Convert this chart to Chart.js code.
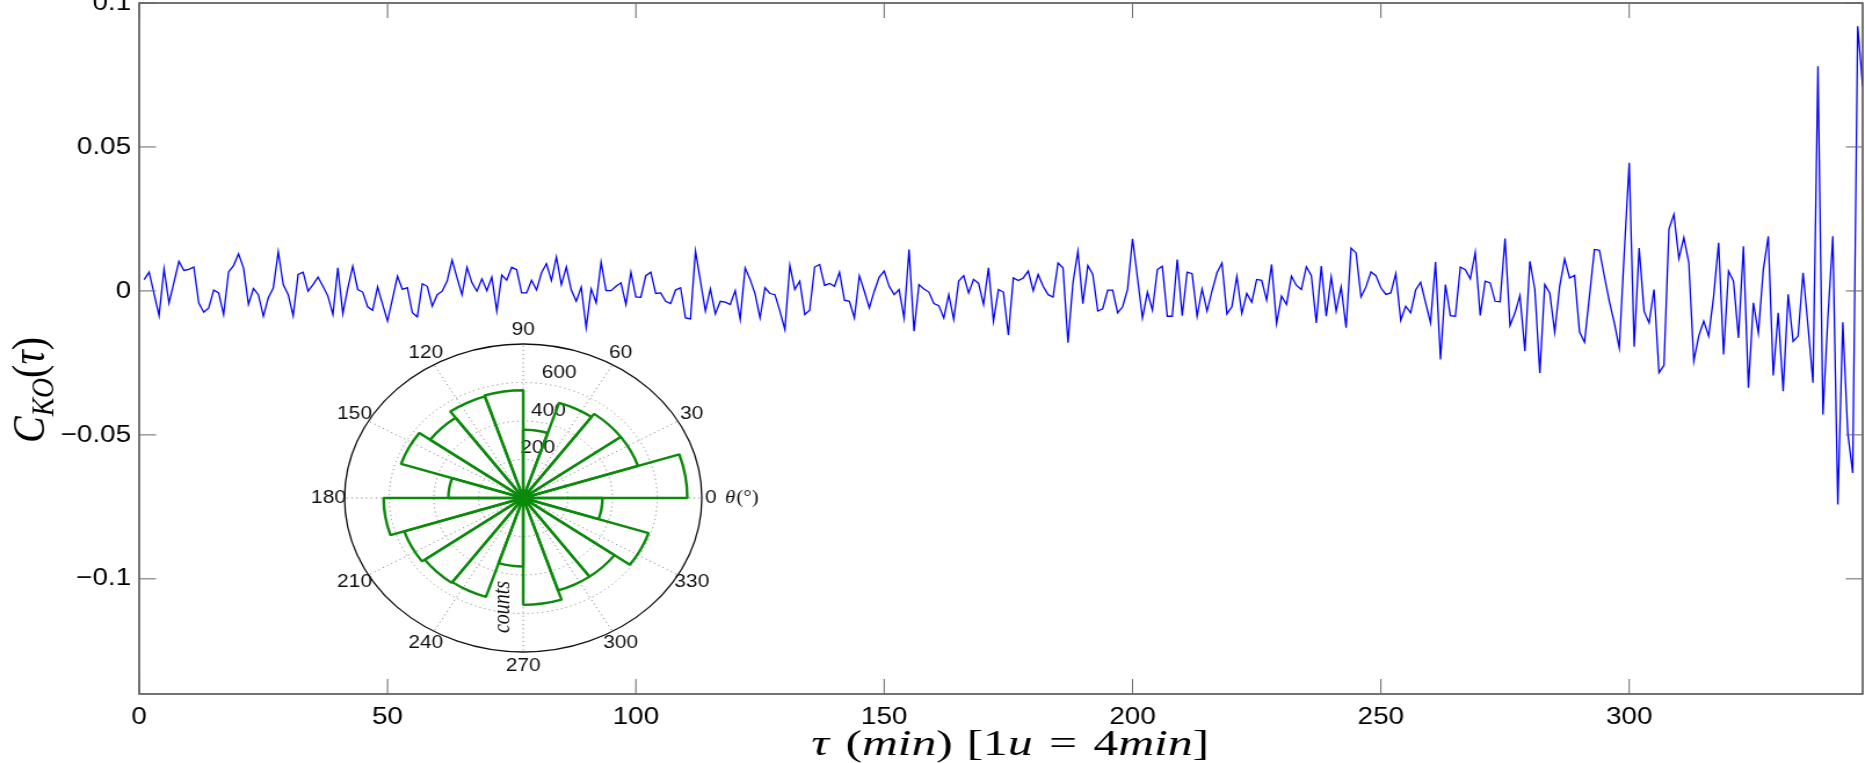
<!DOCTYPE html>
<html>
<head>
<meta charset="utf-8">
<script src="https://cdn.jsdelivr.net/npm/chart.js@4.4.0/dist/chart.umd.min.js"></script>
<style>
  html, body { margin: 0; padding: 0; background: #fff; overflow: hidden; width: 1865px; height: 763px; }
  #main { position: absolute; left: 0; top: 0; width: 1608px; height: 763px; transform: scaleX(1.1598); transform-origin: 0 0; }
  #inset { position: absolute; left: 268px; top: 313px; width: 440px; height: 370px; transform: scaleX(1.16); transform-origin: 0 0; }
</style>
</head>
<body>
<div id="main"><canvas id="mainChart" width="1608" height="763"></canvas></div>
<div id="inset"><canvas id="roseChart" width="440" height="370"></canvas></div>
<script>
// C_KO(tau), one value per lag unit, starting at tau = 1
const ckoValues = [
  0.0039, 0.0065, -0.001, -0.0086, 0.0077, -0.0042, 0.003, 0.0103, 0.0071, 0.0075,
  0.0083, -0.0042, -0.0074, -0.0059, 0.0003, -0.0007, -0.0082, 0.0066, 0.0088, 0.0129,
  0.008, -0.0047, 0.0008, -0.0013, -0.0088, -0.0024, 0.001, 0.0136, 0.0022, -0.0013,
  -0.0086, 0.0057, 0.0065, -0.0001, 0.0022, 0.0048, 0.0016, -0.0018, -0.0082, 0.008,
  -0.0079, 0.001, 0.0086, 0.0005, -0.0004, -0.0055, -0.0067, 0.0014, -0.0047, -0.0105,
  -0.0028, 0.0051, 0.0005, 0.0011, -0.0076, -0.009, 0.0025, 0.0016, -0.0053, -0.0013,
  -0.0001, 0.0034, 0.0107, 0.0045, -0.0013, 0.0082, 0.0028, -0.0001, 0.0042, 0.0001,
  0.0048, -0.007, 0.0055, 0.0037, 0.0082, 0.0074, -0.0007, -0.0007, 0.0037, 0.0003,
  0.0063, 0.0095, 0.0036, 0.0118, 0.0022, 0.0083, 0.0003, -0.0036, 0.0013, -0.0128,
  0.0007, -0.0041, 0.01, 0.0001, 0.0001, 0.0016, 0.0028, -0.0047, 0.0065, -0.0021,
  -0.0022, 0.0053, 0.0065, -0.0009, -0.0007, -0.0036, -0.0044, 0.0003, 0.0011, -0.0094,
  -0.0097, 0.0138, 0.0034, -0.007, 0.0007, -0.008, -0.0036, -0.0039, -0.0047, 0.0001,
  -0.0099, 0.008, 0.004, -0.001, -0.0094, 0.0011, -0.0009, -0.0013, -0.007, -0.0134,
  0.0089, 0.0005, 0.0034, -0.0082, -0.0067, 0.0083, 0.0092, 0.0019, 0.0026, 0.0016,
  0.0065, -0.0032, -0.0036, -0.0094, 0.0053, -0.0001, -0.0059, -0.0001, 0.0048, 0.0069,
  0.0016, -0.0013, 0.0005, -0.0094, 0.0144, -0.014, 0.0022, 0.0007, -0.0004, -0.0044,
  -0.0051, -0.0094, -0.0013, -0.0099, 0.0034, 0.0053, -0.0007, 0.004, 0.0026, -0.0047,
  0.008, -0.0105, 0.0005, -0.0004, -0.0153, 0.0045, 0.0036, 0.0045, 0.0069, 0.0001,
  0.0057, 0.0016, -0.0013, -0.0021, 0.0097, 0.008, -0.018, 0.0028, 0.0138, -0.0044,
  0.0088, 0.0057, -0.007, -0.0062, 0.0003, 0.0003, -0.0076, -0.0055, 0.0005, 0.0181,
  0.0045, -0.0094, -0.0004, -0.0067, 0.0074, 0.0086, -0.0088, -0.0088, 0.0109, -0.0086,
  0.0065, 0.006, -0.0088, 0.0007, -0.007, -0.0001, 0.0063, 0.0097, -0.008, -0.0055,
  0.005, -0.0078, -0.0009, -0.0039, 0.004, 0.0037, -0.0032, 0.0092, -0.0113, -0.0018,
  -0.0047, 0.0051, 0.0019, 0.0005, 0.0084, 0.0053, -0.0111, 0.0086, -0.0088, 0.0049,
  -0.007, 0.0014, -0.0128, 0.0149, 0.0132, -0.0021, 0.0014, 0.0066, 0.0053, 0.0011,
  -0.0012, -0.0007, 0.006, -0.0102, -0.0053, -0.0076, 0.0003, 0.003, -0.0041, -0.0111,
  0.01, -0.0238, 0.0022, -0.0086, -0.0088, 0.0083, 0.0074, 0.0042, 0.0134, -0.0085,
  0.0034, 0.0028, -0.0036, -0.0038, 0.0182, -0.012, -0.0076, -0.0016, -0.0209, 0.0103,
  0.0005, -0.0285, 0.0022, -0.0007, -0.0143, 0.0016, 0.0111, 0.0045, 0.0054, -0.0143,
  -0.0178, -0.0018, 0.0144, 0.0141, 0.0051, -0.0036, -0.0111, -0.0198, 0.0132, 0.0445,
  -0.0194, 0.0149, -0.0071, -0.0111, 0.0005, -0.0284, -0.0258, 0.0215, 0.0266, 0.0112,
  0.0185, 0.0098, -0.0244, -0.0157, -0.0105, -0.0157, -0.0018, 0.0167, -0.0221, 0.0069,
  0.0034, -0.0163, 0.0155, -0.0336, -0.0041, -0.0146, 0.0074, 0.019, -0.0294, -0.0076,
  -0.0348, -0.0012, -0.0175, -0.0157, 0.0063, -0.0122, -0.0319, 0.078, -0.0429, -0.0093,
  0.019, -0.0742, -0.0109, -0.0493, -0.0632, 0.0919, 0.0711
];
const lagStart = 1;
const tau = ckoValues.map((_, i) => lagStart + i);

const xTicks = [0, 50, 100, 150, 200, 250, 300];
const yTicks = [-0.1, -0.05, 0, 0.05, 0.1];
const yTickLabels = ["\u22120.1", "\u22120.05", "0", "0.05", "0.1"];

// rose histogram: 20 bins of 18 degrees, counter-clockwise from 0
const roseCounts = [735, 540, 540, 520, 355, 560, 555, 515, 575, 335,
                    625, 560, 545, 540, 356, 555, 505, 505, 590, 355];
const roseRings = [200, 400, 600];
const roseMax = 800;
const roseAngleTicks = [0, 30, 60, 90, 120, 150, 180, 210, 240, 270, 300, 330];

// mixed italic/upright text, squeezed or stretched to a given length
function drawRuns(ctx, runs, cx, baseY, length) {
  const fontOf = r => (r.it ? "italic " : "") + r.size + 'px "Liberation Serif"';
  let total = 0;
  runs.forEach(r => {
    if (r.gap) { total += r.gap; return; }
    ctx.font = fontOf(r);
    r.w = ctx.measureText(r.t).width;
    total += r.w;
  });
  ctx.save();
  ctx.translate(cx - length / 2, baseY);
  ctx.scale(length / total, 1);
  ctx.textAlign = "left";
  ctx.textBaseline = "alphabetic";
  let x = 0;
  runs.forEach(r => {
    if (r.gap) { x += r.gap; return; }
    ctx.font = fontOf(r);
    ctx.fillText(r.t, x, r.dy || 0);
    x += r.w;
  });
  ctx.restore();
}

const frame = {
  id: "frame",
  afterDraw(chart) {
    const { ctx, chartArea: a, scales: { x, y } } = chart;
    ctx.save();
    ctx.strokeStyle = "#3a3a3a";
    ctx.lineWidth = 1.4;
    ctx.strokeRect(a.left, a.top, a.right - a.left, a.bottom - a.top);

    ctx.strokeStyle = "#666";
    ctx.lineWidth = 1;
    ctx.beginPath();
    xTicks.forEach(v => {
      const px = x.getPixelForValue(v);
      ctx.moveTo(px, a.bottom); ctx.lineTo(px, a.bottom - 15);
      ctx.moveTo(px, a.top); ctx.lineTo(px, a.top + 15);
    });
    yTicks.forEach(v => {
      const py = y.getPixelForValue(v);
      ctx.moveTo(a.left, py); ctx.lineTo(a.left + 14.5, py);
      ctx.moveTo(a.right, py); ctx.lineTo(a.right - 14.5, py);
    });
    ctx.stroke();

    ctx.fillStyle = "#000";
    //x title
    drawRuns(ctx, [
      { t: "\u03c4", it: true, size: 36 }, { gap: 12 },
      { t: "(", size: 36 }, { t: "min", it: true, size: 36 }, { t: ")", size: 36 }, { gap: 10 },
      { t: "[1", size: 36 }, { t: "u", it: true, size: 36 }, { gap: 12 },
      { t: "=", size: 36 }, { gap: 12 },
      { t: "4", size: 36 }, { t: "min", it: true, size: 36 }, { t: "]", size: 36 },
    ], 871, 755, 343);

    //y title
    ctx.translate(38, 390);
    ctx.rotate(-Math.PI / 2);
    drawRuns(ctx, [
      { t: "C", it: true, size: 39 },
      { t: "KO", it: true, size: 27, dy: 8 },
      { t: "(", size: 39 }, { t: "\u03c4", it: true, size: 39 }, { t: ")", size: 39 },
    ], 0, 0, 106);
    ctx.restore();
  },
};

new Chart(document.getElementById("mainChart"), {
  type: "line",
  data: {
    labels: tau,
    datasets: [{
      data: ckoValues,
      borderColor: "#0000ff",
      borderWidth: 1.3,
      pointRadius: 0,
      tension: 0,
      fill: false,
    }],
  },
  options: {
    responsive: false,
    animation: false,
    devicePixelRatio: 1,
    layout: { padding: { top: 3, right: 2, left: 0, bottom: 0 } },
    plugins: { legend: { display: false }, tooltip: { enabled: false } },
    scales: {
      x: {
        type: "linear",
        min: 0,
        max: 347,
        grid: { display: false },
        border: { display: false },
        afterBuildTicks: s => { s.ticks = xTicks.map(v => ({ value: v })); },
        afterFit: s => { s.height = 69; s.paddingLeft = 0; s.paddingRight = 0; },
        ticks: {
          font: { family: "Liberation Sans", size: 24 },
          color: "#000",
          padding: 1,
          maxRotation: 0,
          autoSkip: false,
          callback: v => String(v),
        },
      },
      y: {
        min: -0.14,
        max: 0.1,
        grid: { display: false, drawTicks: false },
        border: { display: false },
        afterBuildTicks: s => { s.ticks = yTicks.map(v => ({ value: v })); },
        afterFit: s => { s.width = 120; s.paddingTop = 0; s.paddingBottom = 0; },
        ticks: {
          font: { family: "Liberation Sans", size: 24 },
          color: "#000",
          padding: 7,
          callback: v => yTickLabels[yTicks.indexOf(v)],
        },
      },
    },
  },
  plugins: [frame],
});

const roseAxes = {
  id: "roseAxes",
  beforeDatasetsDraw(chart) {
    const { ctx } = chart;
    const r = chart.scales.r;
    const cx = r.xCenter, cy = r.yCenter;
    const R = r.getDistanceFromCenterForValue(roseMax);
    ctx.save();

    // dotted rings and spokes
    ctx.strokeStyle = "#8a8a8a";
    ctx.lineWidth = 1;
    ctx.setLineDash([1.2, 3]);
    ctx.beginPath();
    roseRings.forEach(v => {
      const d = r.getDistanceFromCenterForValue(v);
      ctx.moveTo(cx + d, cy);
      ctx.arc(cx, cy, d, 0, Math.PI * 2);
    });
    roseAngleTicks.forEach(a => {
      const t = a * Math.PI / 180;
      ctx.moveTo(cx, cy);
      ctx.lineTo(cx + R * Math.cos(t), cy - R * Math.sin(t));
    });
    ctx.stroke();
    ctx.setLineDash([]);

    ctx.strokeStyle = "#111";
    ctx.lineWidth = 1.3;
    ctx.beginPath();
    ctx.arc(cx, cy, R, 0, Math.PI * 2);
    ctx.stroke();

    // angle labels
    ctx.fillStyle = "#111";
    ctx.font = '18px "Liberation Sans"';
    ctx.textAlign = "center";
    ctx.textBaseline = "middle";
    roseAngleTicks.forEach(a => {
      const t = a * Math.PI / 180;
      const k = a === 0 ? 1.05 : 1.09;
      ctx.fillText(String(a), cx + k * R * Math.cos(t), cy - k * R * Math.sin(t));
    });

    // ring labels
    const lt = 76 * Math.PI / 180;
    roseRings.forEach(v => {
      const d = r.getDistanceFromCenterForValue(v + 68);
      ctx.fillText(String(v), cx + d * Math.cos(lt), cy - d * Math.sin(lt));
    });

    // theta label
    ctx.textAlign = "left";
    ctx.font = 'italic 18px "Liberation Serif"';
    ctx.fillText("\u03b8", cx + 174, cy);
    const tw = ctx.measureText("\u03b8").width;
    ctx.font = '18px "Liberation Serif"';
    ctx.fillText("(\u00b0)", cx + 174 + tw + 1, cy);

    // counts
    ctx.translate(cx - 17, cy + 109);
    ctx.rotate(-Math.PI / 2);
    ctx.textAlign = "center";
    ctx.font = 'italic 20px "Liberation Serif"';
    ctx.fillText("counts", 0, 0);
    ctx.restore();
  },
};

new Chart(document.getElementById("roseChart"), {
  type: "polarArea",
  data: {
    labels: roseCounts.map((_, i) => i),
    datasets: [{
      data: roseCounts.slice().reverse(),
      backgroundColor: "rgba(0,0,0,0)",
      borderColor: "#0b8a0b",
      borderWidth: 2.4,
    }],
  },
  options: {
    responsive: false,
    animation: false,
    devicePixelRatio: 1,
    layout: { padding: { left: 66, right: 66, top: 31, bottom: 31 } },
    plugins: { legend: { display: false }, tooltip: { enabled: false } },
    scales: {
      r: {
        min: 0,
        max: roseMax,
        startAngle: 90,
        ticks: { display: false, stepSize: 200 },
        grid: { display: false },
        angleLines: { display: false },
        pointLabels: { display: false },
      },
    },
  },
  plugins: [roseAxes],
});
</script>
</body>
</html>
